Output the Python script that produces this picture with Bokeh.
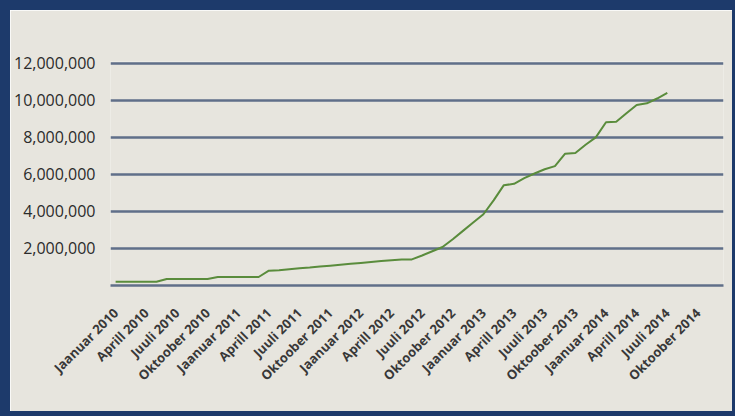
import math
from bokeh.plotting import figure
from bokeh.models import FixedTicker, NumeralTickFormatter, Range1d
from bokeh.embed import file_html
from bokeh.resources import INLINE

# 60 monthly categories (Jan 2010 - Dec 2014), labelled every quarter
month_names = ["Jaanuar", "Veebruar", "Märts", "Aprill", "Mai", "Juuni",
               "Juuli", "August", "September", "Oktoober", "November", "Detsember"]
years = [2010, 2011, 2012, 2013, 2014]
months = [f"{m} {y}" for y in years for m in month_names]

# monthly values, Jan 2010 - Jul 2014
values = [
    0.20e6, 0.20e6, 0.20e6, 0.20e6, 0.20e6,          # 2010 Jan-May
    0.35e6, 0.35e6, 0.35e6, 0.35e6, 0.35e6,          # Jun-Oct
    0.46e6, 0.46e6,                                   # Nov-Dec
    0.46e6, 0.46e6, 0.46e6, 0.80e6, 0.83e6, 0.88e6,   # 2011 Jan-Jun
    0.93e6, 0.97e6, 1.02e6, 1.07e6, 1.12e6, 1.17e6,   # Jul-Dec
    1.22e6, 1.27e6, 1.32e6, 1.37e6, 1.40e6, 1.41e6,   # 2012 Jan-Jun
    1.62e6, 1.85e6, 2.08e6, 2.50e6, 2.95e6, 3.40e6,   # Jul-Dec
    3.85e6, 4.60e6, 5.42e6, 5.49e6, 5.80e6, 6.05e6,   # 2013 Jan-Jun
    6.28e6, 6.45e6, 7.12e6, 7.16e6, 7.60e6, 8.00e6,   # Jul-Dec
    8.82e6, 8.84e6, 9.30e6, 9.75e6, 9.84e6, 10.10e6,  # 2014 Jan-Jun
    10.40e6,                                          # Jul
]

y_ticks = [0, 2e6, 4e6, 6e6, 8e6, 10e6, 12e6]
x_tick_idx = list(range(0, 60, 3))

BG = "#e7e5de"
NAVY = "#1d3a6b"
GRID = "#606f89"

p = figure(width=735, height=416, output_backend="svg", toolbar_location=None,
           x_range=Range1d(-0.5, 59.5), y_range=Range1d(0, 12.1e6),
           min_border_left=100, min_border_right=22, min_border_top=51,
           min_border_bottom=141)
p.styles = {"border-left": f"10px solid {NAVY}", "border-top": f"10px solid {NAVY}",
            "border-right": f"3px solid {NAVY}", "border-bottom": f"5px solid {NAVY}"}
p.background_fill_color = BG
p.border_fill_color = BG
p.outline_line_color = None

p.line(list(range(len(values))), values, line_color="#5a8c3c", line_width=2)

p.xgrid.visible = False
p.ygrid.ticker = FixedTicker(ticks=y_ticks)
p.ygrid.grid_line_color = GRID
p.ygrid.grid_line_width = 2.5

p.yaxis.ticker = FixedTicker(ticks=y_ticks)
p.yaxis.formatter = NumeralTickFormatter(format="0,0")
p.yaxis.major_label_overrides = {0: ""}
p.yaxis.axis_line_color = None
p.yaxis.major_tick_line_color = None
p.yaxis.minor_tick_line_color = None
p.yaxis.major_label_text_font = "Open Sans"
p.yaxis.major_label_text_font_size = "16px"
p.yaxis.major_label_text_color = "#2b2b2b"
p.yaxis.major_label_standoff = 9

p.xaxis.ticker = FixedTicker(ticks=x_tick_idx)
p.xaxis.major_label_overrides = {i: months[i] for i in x_tick_idx}
p.xaxis.major_label_orientation = math.pi / 4
p.xaxis.axis_line_color = GRID
p.xaxis.axis_line_width = 2.5
p.xaxis.major_tick_line_color = None
p.xaxis.minor_tick_line_color = None
p.xaxis.major_label_text_font = "Open Sans"
p.xaxis.major_label_text_font_size = "13px"
p.xaxis.major_label_text_font_style = "bold"
p.xaxis.major_label_text_color = "#383838"
p.xaxis.major_label_standoff = 19

open("out.html", "w").write(file_html(p, INLINE))
